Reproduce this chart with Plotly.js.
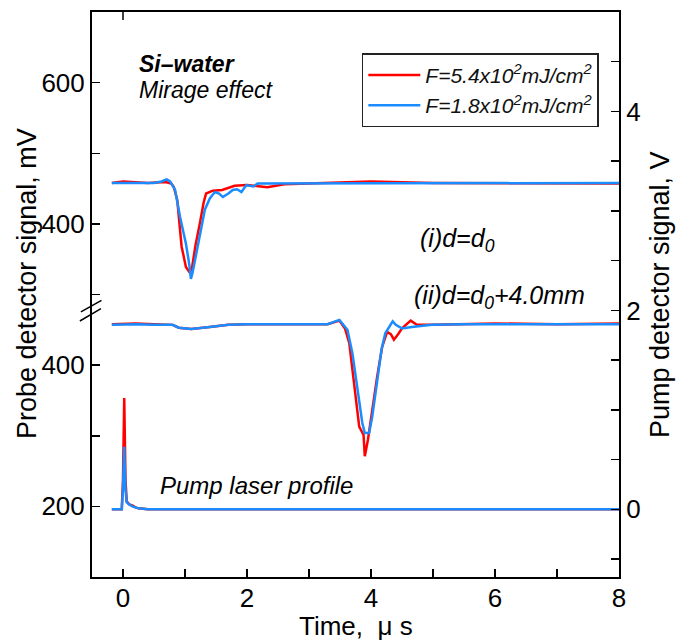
<!DOCTYPE html>
<html>
<head>
<meta charset="utf-8">
<script src="https://cdn.plot.ly/plotly-3.0.1.min.js"></script>
<style>html,body{margin:0;padding:0;background:#fff;}#chart{width:677px;height:641px;}</style>
</head>
<body>
<div id="chart"></div>
<script>
// ---- data (time in microseconds) ----
// (i) d = d0, probe signal in mV (upper axis section)
const t_i_red = [-0.18, 0.0, 0.2, 0.4, 0.6, 0.7, 0.78, 0.82, 0.875, 0.945, 1.015, 1.07, 1.11, 1.17, 1.24, 1.3, 1.34, 1.45, 1.6, 1.8, 2.0, 2.33, 2.6, 3.0, 4.0, 5.0, 6.0, 7.0, 7.5, 8.0];
const v_i_red = [458, 460, 459, 458, 459, 459, 457, 452, 434, 368, 339, 332, 336, 370, 401, 430, 443, 447, 448, 454, 455, 452, 456, 457, 460, 458, 458, 457, 458, 457];
const t_i_blue = [-0.18, 0.2, 0.5, 0.62, 0.705, 0.76, 0.84, 0.92, 1.015, 1.07, 1.095, 1.12, 1.16, 1.24, 1.32, 1.40, 1.48, 1.55, 1.61, 1.70, 1.77, 1.84, 1.91, 1.99, 2.10, 2.17, 2.4, 3.0, 4.0, 5.0, 6.0, 7.0, 8.0];
const v_i_blue = [458, 458, 458, 460, 463, 460, 448, 410, 372, 342, 322, 330, 349, 387, 420, 436, 445, 443, 438, 443, 448, 449, 445, 455, 453, 457, 457, 458, 458, 458, 458, 458, 458];

// (ii) d = d0 + 4.0 mm, probe signal in mV (lower axis section, as labelled)
const t_ii_red = [-0.18, 0.2, 0.5, 0.8, 0.9, 1.1, 1.4, 1.7, 2.0, 2.5, 3.0, 3.3, 3.49, 3.58, 3.65, 3.73, 3.81, 3.88, 3.90, 3.95, 4.02, 4.10, 4.18, 4.26, 4.32, 4.37, 4.44, 4.50, 4.64, 4.74, 5.0, 5.5, 6.0, 7.0, 8.0];
const v_ii_red = [458, 459, 458, 457, 453, 451, 454, 457, 458, 458, 458, 458, 463, 452, 431, 375, 313, 301, 271, 294, 337, 384, 426, 447, 444, 436, 444, 452, 463, 457, 457, 458, 459, 458, 459];
const t_ii_blue = [-0.18, 0.2, 0.5, 0.8, 0.9, 1.1, 1.4, 1.7, 2.0, 2.5, 3.0, 3.3, 3.49, 3.62, 3.70, 3.78, 3.86, 3.90, 3.97, 4.02, 4.10, 4.17, 4.23, 4.30, 4.35, 4.40, 4.50, 4.66, 4.98, 5.5, 6.0, 7.0, 8.0];
const v_ii_blue = [457, 458, 457, 457, 453, 451, 454, 457, 458, 458, 458, 458, 464, 450, 417, 370, 318, 304, 304, 327, 375, 422, 445, 455, 462, 457, 452, 454, 457, 458, 458, 458, 458];

// Pump laser profile, pump detector signal in V (right axis)
const t_pump_red = [-0.18, -0.02, 0.0, 0.02, 0.04, 0.06, 0.1, 0.15, 0.2, 0.25, 0.4, 1.0, 2.0, 4.0, 6.0, 8.0];
const v_pump_red = [0, 0, 0.3, 1.12, 0.3, 0.08, 0.05, 0.04, 0.02, 0.01, 0, 0, 0, 0, 0, 0];
const t_pump_blue = [-0.18, -0.02, 0.0, 0.02, 0.04, 0.06, 0.1, 0.15, 0.2, 0.25, 0.4, 1.0, 2.0, 4.0, 6.0, 8.0];
const v_pump_blue = [0, 0, 0.2, 0.63, 0.2, 0.07, 0.05, 0.03, 0.02, 0.01, 0, 0, 0, 0, 0, 0];

const seriesNames = ['F=5.4x10<sup>2</sup>mJ/cm<sup>2</sup>', 'F=1.8x10<sup>2</sup>mJ/cm<sup>2</sup>'];
const xTickVals = [0, 2, 4, 6, 8];
const yTickVals = [0, 200, 400, 600];          // positions on the continuous (broken) axis
const yTickText = ['200', '400', '400', '600']; // labels shown at those positions
const y2TickVals = [0, 2, 4];
const breakOffset = 200; // lower section labels are shifted by this amount

const RED = '#ff0000', BLUE = '#1a8cff';

function line(x, y, color, name, show, axis) {
  return {x: x, y: y, type: 'scatter', mode: 'lines', name: name, legendgroup: name,
          showlegend: show, yaxis: axis || 'y', line: {color: color, width: 2.5}, hoverinfo: 'skip'};
}

const data = [
  line(t_pump_red, v_pump_red, RED, seriesNames[0], false, 'y2'),
  line(t_pump_blue, v_pump_blue, BLUE, seriesNames[1], false, 'y2'),
  line(t_ii_red, v_ii_red.map(v => v - breakOffset), RED, seriesNames[0], false),
  line(t_ii_blue, v_ii_blue.map(v => v - breakOffset), BLUE, seriesNames[1], false),
  line(t_i_red, v_i_red, RED, seriesNames[0], true),
  line(t_i_blue, v_i_blue, BLUE, seriesNames[1], true)
];

const FONT = 'Liberation Sans, Arial, Helvetica, sans-serif';
const tickStyle = {ticks: 'inside', ticklen: 8, tickwidth: 1.5, tickcolor: '#000'};

const layout = {
  width: 677, height: 641,
  margin: {l: 92, r: 58, t: 12, b: 64},
  paper_bgcolor: '#fff', plot_bgcolor: '#fff',
  font: {family: FONT, color: '#000'},
  showlegend: true,
  legend: {x: 0.512, y: 0.927, xanchor: 'left', yanchor: 'top', bgcolor: '#fff',
           bordercolor: '#222', borderwidth: 1.5, itemwidth: 52, tracegroupgap: 0,
           font: {family: FONT, size: 21, style: 'italic', color: '#111'},
           traceorder: 'normal'},
  xaxis: Object.assign({range: [-0.5, 8], tickmode: 'array', tickvals: xTickVals,
    minor: Object.assign({dtick: 1, tick0: 0, showgrid: false}, tickStyle),
    showline: true, linecolor: '#000', linewidth: 2, mirror: true, ticklabelstandoff: -3,
    showgrid: false, zeroline: false, tickfont: {size: 26}}, tickStyle),
  yaxis: Object.assign({range: [-100, 700], tickmode: 'array', tickvals: yTickVals, ticktext: yTickText,
    minor: Object.assign({dtick: 100, tick0: 0, showgrid: false}, tickStyle),
    showline: true, linecolor: '#000', linewidth: 2, mirror: false,
    showgrid: false, zeroline: false, tickfont: {size: 26}}, tickStyle),
  yaxis2: Object.assign({range: [-0.68, 5.0], overlaying: 'y', side: 'right', tickmode: 'array', tickvals: y2TickVals,
    minor: Object.assign({dtick: 0.5, tick0: 0, showgrid: false}, tickStyle),
    showline: true, linecolor: '#000', linewidth: 2,
    showgrid: false, zeroline: false, tickfont: {size: 26}}, tickStyle),
  annotations: [
    // axis titles
    {xref: 'paper', yref: 'paper', x: 0.5, y: -0.087, xanchor: 'center', yanchor: 'middle', showarrow: false,
     text: 'Time,\u00a0\u00a0\u03bc\u00a0s', font: {size: 26}},
    {xref: 'paper', yref: 'paper', x: -0.123, y: 0.519, xanchor: 'center', yanchor: 'middle', showarrow: false,
     textangle: -90, text: 'Probe detector signal, mV', font: {size: 27}},
    {xref: 'paper', yref: 'paper', x: 1.077, y: 0.5, xanchor: 'center', yanchor: 'middle', showarrow: false,
     textangle: -90, text: 'Pump detector signal, V', font: {size: 27}},
    // in-plot labels
    {xref: 'x', yref: 'y', x: 0.23, y: 626, xanchor: 'left', yanchor: 'middle', showarrow: false,
     text: '<b><i>Si\u2013water</i></b>', font: {size: 23}},
    {xref: 'x', yref: 'y', x: 0.23, y: 590, xanchor: 'left', yanchor: 'middle', showarrow: false,
     text: '<i>Mirage effect</i>', font: {size: 23}},
    {xref: 'x', yref: 'y', x: 4.76, y: 377, xanchor: 'left', yanchor: 'middle', showarrow: false,
     text: '<i>(i)d=d<sub>0</sub></i>', font: {size: 25}},
    {xref: 'x', yref: 'y', x: 4.66, y: 297, xanchor: 'left', yanchor: 'middle', showarrow: false,
     text: '<i>(ii)d=d<sub>0</sub>+4.0mm</i>', font: {size: 25}},
    {xref: 'x', yref: 'y', x: 0.57, y: 29, xanchor: 'left', yanchor: 'middle', showarrow: false,
     text: '<i>Pump laser profile</i>', font: {size: 24}}
  ],
  shapes: [
    // axis break marks
    {type: 'line', xref: 'paper', yref: 'y', x0: -0.021, y0: 275.3, x1: 0.018, y1: 291.8, line: {color: '#000', width: 1.5}},
    {type: 'line', xref: 'paper', yref: 'y', x0: -0.023, y0: 262.5, x1: 0.017, y1: 280.1, line: {color: '#000', width: 1.5}},
    // small top tick at t = 0
    {type: 'line', xref: 'x', yref: 'paper', x0: 0, x1: 0, y0: 1, y1: 0.986, line: {color: '#000', width: 1.5}}
  ]
};

Plotly.newPlot('chart', data, layout, {staticPlot: true, displayModeBar: false});
</script>
</body>
</html>
